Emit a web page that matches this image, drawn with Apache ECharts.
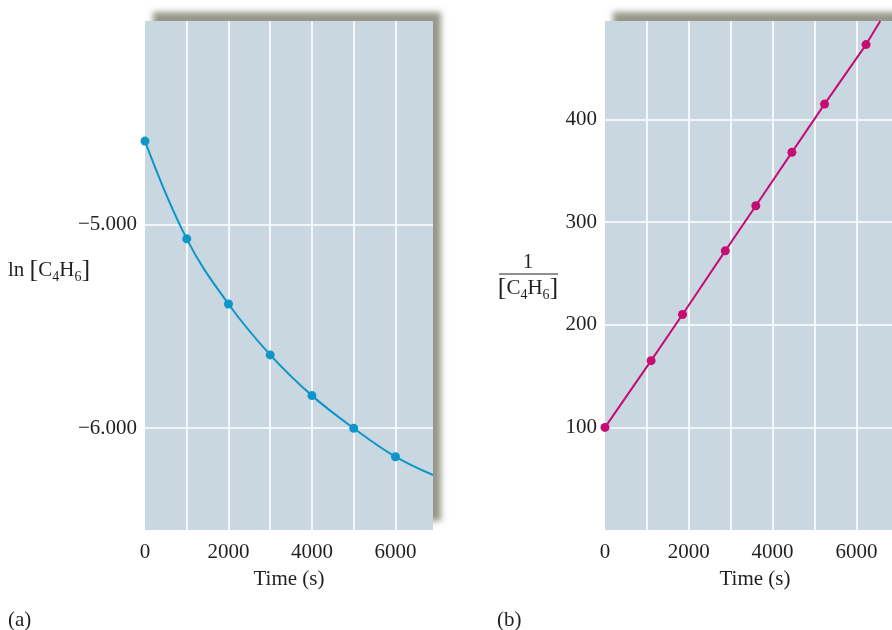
<!DOCTYPE html>
<html><head><meta charset="utf-8">
<script src="https://cdn.jsdelivr.net/npm/echarts@6/dist/echarts.min.js"></script>
<style>html,body{margin:0;padding:0;background:#fff}#c{width:892px;height:630px}</style>
</head><body><div id="c"></div>
<script>
// Panel (a): ln[C4H6] vs time
const timeA = [0, 1000, 2000, 3000, 4000, 5000, 6000, 6900];
const lnC4H6 = [-4.59, -5.07, -5.39, -5.64, -5.84, -6.00, -6.14, -6.23];
// Panel (b): 1/[C4H6] vs time
const timeB = [0, 1100, 1850, 2870, 3600, 4460, 5240, 6230, 6570];
const invC4H6 = [100, 165, 210, 272, 316, 368, 415, 473, 496];
// gridline values
const gridXA = [1000, 2000, 3000, 4000, 5000, 6000];
const gridYA = [-5, -6];
const gridXB = [1000, 2000, 3000, 4000, 5000, 6000, 7000];
const gridYB = [100, 200, 300, 400];
const xTickLabels = [0, 2000, 4000, 6000];
const yTickLabelsA = [-5, -6];
const yTickLabelsB = [100, 200, 300, 400];

const FONT = 'Liberation Serif';
const TXT = '#231f20';
const BG = '#c9d8e0';
const BLUE = '#0e95c9';
const MAG = '#c60b74';
const FS = 21;

function gridLines(xs, ys) {
  return {
    silent: true, symbol: 'none', animation: false, z: 1,
    label: { show: false },
    lineStyle: { color: '#ffffff', width: 1.6, type: 'solid' },
    emphasis: { disabled: true },
    data: xs.map(v => ({ xAxis: v })).concat(ys.map(v => ({ yAxis: v })))
  };
}
const gridCommon = {
  show: true, backgroundColor: BG, borderWidth: 0, outerBoundsMode: 'none', containLabel: false,
  shadowBlur: 6, shadowColor: 'rgba(125,125,110,0.8)', shadowOffsetX: 8, shadowOffsetY: -9
};
const axisLabelBase = { fontFamily: FONT, fontSize: FS, color: TXT };
const richSub = {
  b: { fontFamily: FONT, fontSize: 26, fill: TXT, lineHeight: 28 },
  s: { fontFamily: FONT, fontSize: 14, fill: TXT, lineHeight: 14, verticalAlign: 'bottom' }
};

const chart = echarts.init(document.getElementById('c'), null, { renderer: 'canvas' });
const ptsA = timeA.map((t, i) => i === timeA.length - 1 ? { value: [t, lnC4H6[i]], symbol: 'none' } : [t, lnC4H6[i]]);
const ptsB = timeB.map((t, i) => i === timeB.length - 1 ? { value: [t, invC4H6[i]], symbol: 'none' } : [t, invC4H6[i]]);

chart.setOption({
  backgroundColor: '#fff',
  animation: false,
  grid: [
    Object.assign({ left: 145, top: 21, width: 288, height: 509 }, gridCommon),
    Object.assign({ left: 605, top: 21, width: 300, height: 509 }, gridCommon)
  ],
  xAxis: [0, 1].map(i => ({
    type: 'value', gridIndex: i, min: 0, max: i === 0 ? 6900 : 7160, interval: 1000,
    axisLine: { show: false }, axisTick: { show: false }, splitLine: { show: false },
    axisLabel: Object.assign({ margin: 12, formatter: v => xTickLabels.includes(v) ? String(v) : '' }, axisLabelBase),
    name: 'Time (s)', nameLocation: 'middle', nameGap: 39,
    nameTextStyle: { fontFamily: FONT, fontSize: FS, color: TXT }
  })),
  yAxis: [
    {
      type: 'value', gridIndex: 0, min: -6.5, max: -4, interval: 0.5,
      axisLine: { show: false }, axisTick: { show: false }, splitLine: { show: false },
      axisLabel: Object.assign({ margin: 8, formatter: v => yTickLabelsA.includes(v) ? '\u2212' + Math.abs(v).toFixed(3) : '' }, axisLabelBase)
    },
    {
      type: 'value', gridIndex: 1, min: 0, max: 496, interval: 100,
      axisLine: { show: false }, axisTick: { show: false }, splitLine: { show: false },
      axisLabel: Object.assign({ margin: 8, formatter: v => yTickLabelsB.includes(v) ? String(v) : '' }, axisLabelBase)
    }
  ],
  series: [
    { type: 'line', xAxisIndex: 0, yAxisIndex: 0, data: [], z: 1, markLine: gridLines(gridXA, gridYA) },
    { type: 'line', xAxisIndex: 1, yAxisIndex: 1, data: [], z: 1, markLine: gridLines(gridXB, gridYB) },
    {
      type: 'line', xAxisIndex: 0, yAxisIndex: 0, data: ptsA, smooth: 0.4, z: 3,
      symbol: 'circle', symbolSize: 9, lineStyle: { color: BLUE, width: 2 }, itemStyle: { color: BLUE }
    },
    {
      type: 'line', xAxisIndex: 1, yAxisIndex: 1, data: ptsB, z: 3,
      symbol: 'circle', symbolSize: 9, lineStyle: { color: MAG, width: 2 }, itemStyle: { color: MAG }
    }
  ],
  graphic: [
    {
      type: 'text', left: 8, top: 256, silent: true,
      style: { text: 'ln {b|[}C{s|4}H{s|6}{b|]}', fontFamily: FONT, fontSize: FS, fill: TXT, lineHeight: 28, rich: richSub }
    },
    { type: 'text', x: 528, y: 262, silent: true, style: { text: '1', fontFamily: FONT, fontSize: FS, fill: TXT, align: 'center', verticalAlign: 'middle' } },
    { type: 'line', silent: true, shape: { x1: 499, y1: 274, x2: 558, y2: 274 }, style: { stroke: TXT, lineWidth: 1 } },
    {
      type: 'text', x: 528, y: 288, silent: true,
      style: { text: '{b|[}C{s|4}H{s|6}{b|]}', fontFamily: FONT, fontSize: FS, fill: TXT, align: 'center', verticalAlign: 'middle', lineHeight: 28, rich: richSub }
    },
    { type: 'text', x: 8, y: 620, silent: true, style: { text: '(a)', fontFamily: FONT, fontSize: FS, fill: TXT, verticalAlign: 'middle' } },
    { type: 'text', x: 497, y: 620, silent: true, style: { text: '(b)', fontFamily: FONT, fontSize: FS, fill: TXT, verticalAlign: 'middle' } }
  ]
});
</script></body></html>
